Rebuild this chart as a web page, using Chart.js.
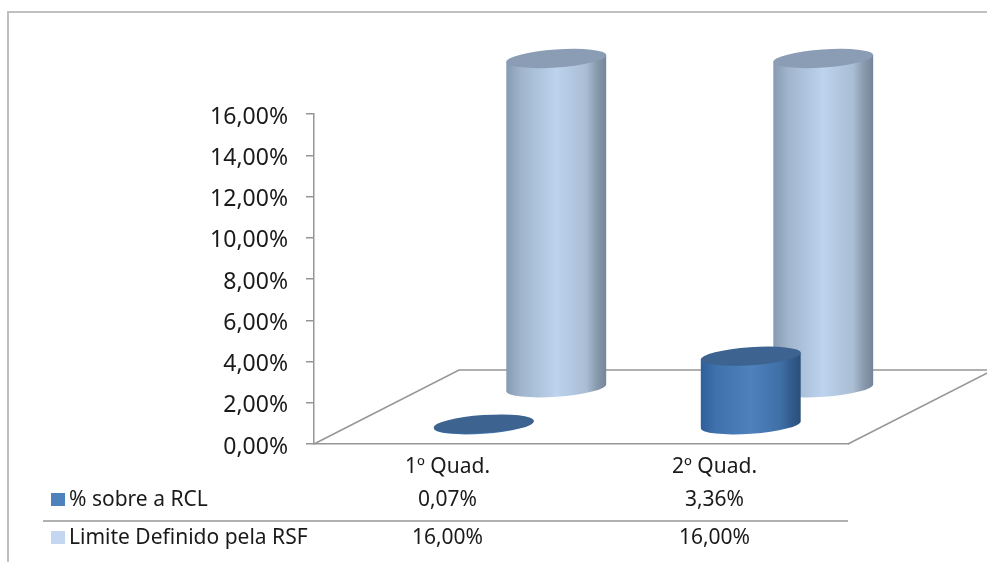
<!DOCTYPE html>
<html>
<head>
<meta charset="utf-8">
<title>% sobre a RCL</title>
<script src="https://cdn.jsdelivr.net/npm/chart.js@4"></script>
<style>
  html, body { margin: 0; background: #fff; }
  canvas { display: block; }
</style>
</head>
<body>
<canvas id="chart" width="987" height="562"></canvas>
<script>
// Data
const categories = ["1º Quad.", "2º Quad."];
const rclValues = [0.07, 3.36];
const limitValues = [16, 16];
const seriesNames = ["% sobre a RCL", "Limite Definido pela RSF"];

const fontName = '"Noto Sans", sans-serif';
const textColor = "#1a1a1a";
const lineColor = "#969696";

// depth of the 3D floor, in pixels
const depthX = 145;
const depthY = -74;

const fmt = v => v.toFixed(2).replace(".", ",") + "%";

function drawCylinder(ctx, bar, depth, look) {
  const cx = bar.x + depthX * depth;
  const baseY = bar.base + depthY * depth;
  const topY = bar.y + depthY * depth;
  const a = bar.width / 2;
  const b = 9;
  const rot = -0.07;
  const dx = a * Math.cos(rot);
  const dy = a * Math.sin(rot);

  const g = ctx.createLinearGradient(cx - a, 0, cx + a, 0);
  look.stops.forEach((c, i) => g.addColorStop([0, 0.15, 0.5, 0.8, 0.9, 1][i], c));

  ctx.fillStyle = g;
  ctx.beginPath();
  ctx.ellipse(cx, baseY, a, b, rot, 0, Math.PI);
  ctx.lineTo(cx - dx, topY - dy);
  ctx.lineTo(cx + dx, topY + dy);
  ctx.closePath();
  ctx.fill();

  ctx.fillStyle = look.top;
  ctx.beginPath();
  ctx.ellipse(cx, topY, a, b, rot, 0, Math.PI * 2);
  ctx.fill();
}

const cylinders = {
  id: "cylinders",
  beforeDatasetsDraw(chart) {
    const { ctx, chartArea: ca } = chart;
    ctx.save();

    // outer frame
    ctx.strokeStyle = "#c0c0c0";
    ctx.lineWidth = 2;
    ctx.beginPath();
    ctx.moveTo(8, 562);
    ctx.lineTo(8, 12);
    ctx.lineTo(987, 12);
    ctx.stroke();

    // floor
    ctx.strokeStyle = lineColor;
    ctx.lineWidth = 1.5;
    ctx.beginPath();
    ctx.moveTo(ca.left, ca.bottom);
    ctx.lineTo(ca.left + depthX, ca.bottom + depthY);
    ctx.lineTo(ca.right + depthX, ca.bottom + depthY);
    ctx.lineTo(ca.right, ca.bottom);
    ctx.stroke();
    ctx.restore();
  },
  afterDatasetsDraw(chart) {
    const { ctx, scales } = chart;
    ctx.save();

    // back row first, then the front row
    chart.getDatasetMeta(1).data.forEach(bar => drawCylinder(ctx, bar, 0.75, {
      stops: ["#869ab2", "#a0b5cc", "#bdd3ee", "#a9bdd3", "#8a9bae", "#74859a"], top: "#8a9db5"
    }));
    chart.getDatasetMeta(0).data.forEach(bar => drawCylinder(ctx, bar, 0.25, {
      stops: ["#2f5f99", "#3f71ad", "#4f81bd", "#3f6fa6", "#335d8e", "#2a4f7a"], top: "#3d6391"
    }));

    // data table
    const rows = [
      { y: 500, name: seriesNames[0], values: rclValues, swatch: "#4f81bd" },
      { y: 538, name: seriesNames[1], values: limitValues, swatch: "#c3d7f0" }
    ];
    ctx.strokeStyle = lineColor;
    ctx.lineWidth = 1.5;
    ctx.beginPath();
    ctx.moveTo(43, 521);
    ctx.lineTo(chart.chartArea.right, 521);
    ctx.stroke();

    ctx.font = "21px " + fontName;
    ctx.textBaseline = "middle";
    rows.forEach(r => {
      ctx.fillStyle = r.swatch;
      ctx.fillRect(51, r.y - 7, 14, 13);
      ctx.fillStyle = textColor;
      ctx.textAlign = "left";
      ctx.fillText(r.name, 69, r.y);
      ctx.textAlign = "center";
      r.values.forEach((v, i) => ctx.fillText(fmt(v), scales.x.getPixelForValue(i), r.y));
    });
    ctx.restore();
  }
};

new Chart(document.getElementById("chart"), {
  type: "bar",
  data: {
    labels: categories,
    datasets: [
      { label: seriesNames[0], data: rclValues, backgroundColor: "rgba(0,0,0,0)" },
      { label: seriesNames[1], data: limitValues, backgroundColor: "rgba(0,0,0,0)" }
    ]
  },
  plugins: [cylinders],
  options: {
    responsive: false,
    animation: false,
    layout: { padding: { top: 114, left: 0, right: 139, bottom: 0 } },
    plugins: { legend: { display: false }, tooltip: { enabled: false } },
    datasets: { bar: { grouped: false, categoryPercentage: 1, barPercentage: 0.375 } },
    scales: {
      x: {
        afterFit: s => { s.height = 118; },
        grid: { display: false, drawTicks: false },
        border: { color: lineColor, width: 1.5 },
        ticks: { color: textColor, font: { family: fontName, size: 21 }, padding: 10, maxRotation: 0 }
      },
      y: {
        min: 0,
        max: 16,
        afterFit: s => { s.width = 314; },
        grid: { drawOnChartArea: false, tickLength: 8, color: lineColor, lineWidth: 1.5 },
        border: { color: lineColor, width: 1.5 },
        ticks: {
          stepSize: 2,
          padding: 18,
          labelOffset: 3,
          color: textColor,
          font: { family: fontName, size: 23 },
          callback: v => fmt(v)
        }
      }
    }
  }
});
</script>
</body>
</html>
